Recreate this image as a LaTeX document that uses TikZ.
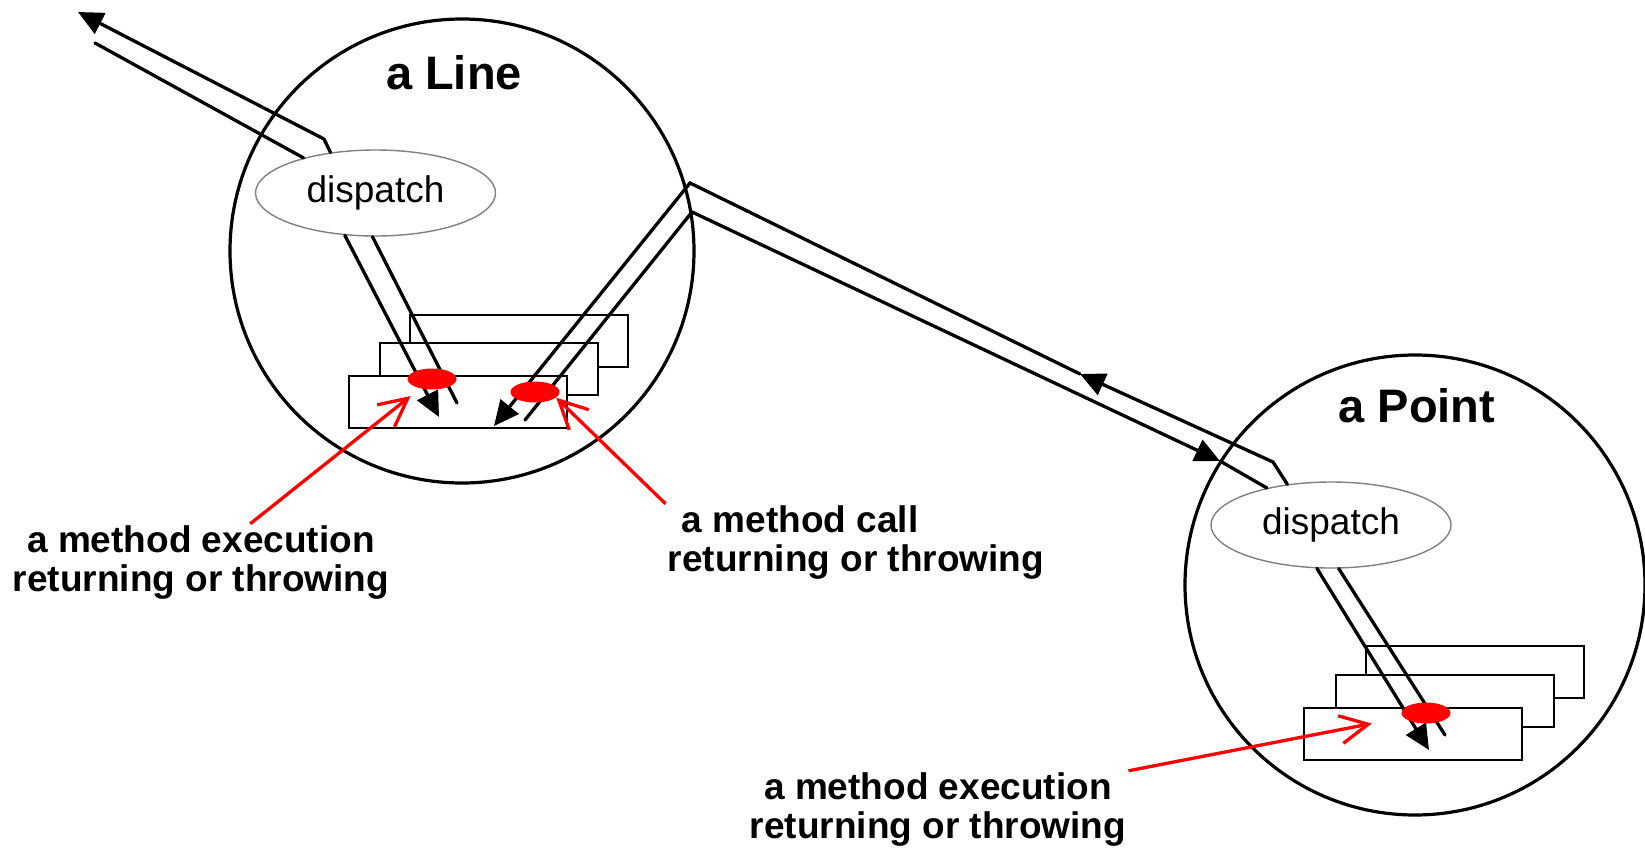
\documentclass[tikz,border=0pt]{standalone}
\usepackage{fontspec}
\setmainfont{Liberation Sans}
\usetikzlibrary{arrows.meta,shapes.geometric}

\begin{document}
\begin{tikzpicture}[x=0.5pt, y=-0.5pt, >={Triangle[length=12.5pt,width=11.5pt]},
  obj/.style={draw, circle, line width=1.6pt, inner sep=0pt},
  title/.style={font=\fontsize{23.5}{28}\selectfont\bfseries, inner sep=0pt},
  disp/.style={draw=gray, ellipse, line width=0.7pt, minimum width=120pt, minimum height=43pt, inner sep=0pt, font=\fontsize{18.5}{22}\selectfont},
  body/.style={draw, fill=white, line width=1.3pt, minimum width=109pt, minimum height=26pt, inner sep=0pt},
  spot/.style={fill=red, ellipse, minimum width=24.5pt, minimum height=10.5pt, inner sep=0pt},
  pipe/.style={line width=1.65pt, line cap=round},
  note/.style={font=\fontsize{18.5}{19.5}\selectfont\bfseries, inner sep=1pt},
  pointer/.style={draw=red, line width=1.65pt, -{Straight Barb[length=14pt,width=14pt]}}]
\useasboundingbox (0,0) rectangle (1645,847);
% ================= the two objects =================
\node[obj, minimum size=232pt] (line) at (462,251) {};
\node[obj, minimum size=230pt] (point) at (1415,585) {};
\node[title] (linet) at (454,73) {a Line};
\node[title] (pointt) at (1417,406) {a Point};
\foreach \n/\x/\y in {3/519/341,2/489/369,1/458/402}{\node[body] (lm\n) at (\x,\y) {};}
\foreach \n/\x/\y in {3/1475/672,2/1445/701,1/1413/734}{\node[body] (pm\n) at (\x,\y) {};}
\node[disp] (ld) at (375.5,193) {dispatch};
\node[disp] (pd) at (1331,525) {dispatch};
% ================= pipes =================
\coordinate (lout) at (78,12);
\coordinate (lin) at (95,43);
\coordinate (lbend) at (324,139);
\coordinate (lcallend) at (439,417);
\coordinate (lretstart) at (457,403);
\coordinate (lsend) at (525,420);
\coordinate (lrecv) at (494,426);
\coordinate (apexup) at (690,183);
\coordinate (apexlo) at (692,212);
\coordinate (retmid) at (1080,374);
\coordinate (callmid) at (1220,461);
\coordinate (pbend) at (1273,462);
\coordinate (pcallend) at (1429,750);
\coordinate (pretstart) at (1445,735);
\draw[pipe, ->] (ld.138) -- (lbend) -- (lout);
\draw[pipe] (lin) -- (ld.154);
\draw[pipe, ->] (ld.234) -- (lcallend);
\draw[pipe] (lretstart) -- (ld.266);
\draw[pipe, ->] (lsend) -- (apexlo) -- (callmid);
\draw[pipe] (callmid) -- (pd.150);
\draw[pipe, ->] (pd.137) -- (pbend) -- (retmid);
\draw[pipe, ->] (retmid) -- (apexup) -- (lrecv);
\draw[pipe, ->] (pd.252) -- (pcallend);
\draw[pipe] (pretstart) -- (pd.280);
% ================= join points and notes =================
\node[spot] (ls1) at (432,379) {};
\node[spot] (ls2) at (535,392) {};
\node[spot] (ps1) at (1426,713) {};
\node[note, align=center] (lab1) at (201,563) {a method execution\\returning or throwing};
\node[note, align=left] (lab2) at (856,543) {\hspace*{7pt}a method call\\returning or throwing};
\node[note, align=center] (lab3) at (938,810) {a method execution\\returning or throwing};
\draw[pointer, shorten >=6pt] (lab1) -- (ls1);
\draw[pointer] (lab2.north west) -- (ls2.-15);
\draw[pointer, shorten >=16pt] (lab3.north east) -- (ps1);
\end{tikzpicture}
\end{document}
